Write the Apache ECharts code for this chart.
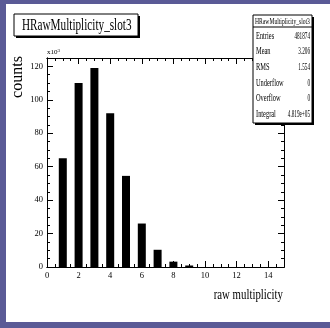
<!DOCTYPE html>
<html><head><meta charset="utf-8">
<script src="https://cdn.jsdelivr.net/npm/echarts@6/dist/echarts.min.js"></script>
<style>
html,body{margin:0;padding:0;background:#5a5a96;width:330px;height:328px;overflow:hidden;}
#panel{position:absolute;left:6px;top:4px;width:324px;height:318px;background:#fff;}
#c{position:absolute;left:0;top:0;width:330px;height:328px;}
</style>
</head><body><div id="panel"></div><div id="c"></div>
<script>
// ---- data ----
const binCenters = [1, 2, 3, 4, 5, 6, 7, 8, 9];
const countsK = [65, 110, 119, 92, 54.5, 26, 10.3, 3.2, 0.9];   // counts in units of 10^3
const xTickLabels = [0, 2, 4, 6, 8, 10, 12, 14];
const yTickLabels = [0, 20, 40, 60, 80, 100, 120];
const histTitle = 'HRawMultiplicity_slot3';
const statsNames = ['Entries', 'Mean', 'RMS', 'Underflow', 'Overflow', 'Integral'];
const statsValues = ['481874', '3.206', '1.554', '0', '0', '4.819e+05'];
const xTitle = 'raw multiplicity';
const yTitle = 'counts';

const SERIF = '"Liberation Serif", "DejaVu Serif", serif';
const chart = echarts.init(document.getElementById('c'), null, {renderer: 'canvas'});

function xAx(pos, interval, len, labels) {
  return {
    type: 'value', position: pos, min: 0, max: 15, interval: interval,
    axisLine: {show: true, onZero: false, lineStyle: {color: '#000', width: 1}},
    axisTick: {show: true, inside: true, length: len, lineStyle: {color: '#000', width: 1}},
    axisLabel: labels ? {
      show: true, margin: 4, color: '#000', fontFamily: SERIF, fontSize: 8.5,
      formatter: v => xTickLabels.includes(v) ? String(v) : ''
    } : {show: false},
    splitLine: {show: false}
  };
}
function yAx(pos, interval, len, labels) {
  return {
    type: 'value', position: pos, min: 0, max: 125, interval: interval,
    axisLine: {show: true, onZero: false, lineStyle: {color: '#000', width: 1}},
    axisTick: {show: true, inside: true, length: len, lineStyle: {color: '#000', width: 1}},
    axisLabel: labels ? {
      show: true, margin: 4, color: '#000', fontFamily: SERIF, fontSize: 8.5,
      formatter: v => yTickLabels.includes(v) ? String(v) : ''
    } : {show: false},
    splitLine: {show: false}
  };
}

const g = [];
// title box
g.push({type: 'rect', shape: {x: 16, y: 16, width: 124, height: 22}, style: {fill: '#000'}, z: 100});
g.push({type: 'rect', shape: {x: 14, y: 14, width: 124, height: 22}, style: {fill: '#fff', stroke: '#000', lineWidth: 1}, z: 101});
g.push({type: 'text', x: 22, y: 26, scaleX: 0.7, scaleY: 1, originX: 0, originY: 0,
  style: {text: histTitle, x: 0, y: 0, fill: '#000', font: '16px ' + SERIF,
    textAlign: 'left', align: 'left', textVerticalAlign: 'middle', verticalAlign: 'middle'}, z: 102});
// stats box
const sx = 253, sy = 15, sw = 59, sh = 108;
g.push({type: 'rect', shape: {x: sx + 2, y: sy + 2, width: sw, height: sh}, style: {fill: '#000'}, z: 100});
g.push({type: 'rect', shape: {x: sx, y: sy, width: sw, height: sh}, style: {fill: '#fff', stroke: '#000', lineWidth: 1}, z: 101});
g.push({type: 'line', shape: {x1: sx, y1: 27, x2: sx + sw, y2: 27}, style: {stroke: '#000', lineWidth: 1}, z: 102});
g.push({type: 'text', x: sx + sw / 2, y: 21.5, scaleX: 0.66, originX: 0, originY: 0,
  style: {text: histTitle, x: 0, y: 0, fill: '#000', font: '8.5px ' + SERIF,
    textAlign: 'center', align: 'center', textVerticalAlign: 'middle', verticalAlign: 'middle'}, z: 102});
statsNames.forEach((n, i) => {
  const yy = 36 + i * 15.7;
  g.push({type: 'text', x: sx + 3, y: yy, scaleX: 0.64, originX: 0, originY: 0,
    style: {text: n, x: 0, y: 0, fill: '#000', font: '10px ' + SERIF,
      textAlign: 'left', align: 'left', textVerticalAlign: 'middle', verticalAlign: 'middle'}, z: 102});
  g.push({type: 'text', x: sx + sw - 2, y: yy, scaleX: 0.52, originX: 0, originY: 0,
    style: {text: statsValues[i], x: 0, y: 0, fill: '#000', font: '10px ' + SERIF,
      textAlign: 'right', align: 'right', textVerticalAlign: 'middle', verticalAlign: 'middle'}, z: 102});
});
// exponent label
g.push({type: 'text', x: 47, y: 56,
  style: {text: 'x10{s|3}', x: 0, y: 0, fill: '#000', font: '7px ' + SERIF,
    rich: {s: {fontSize: 5, fontFamily: SERIF, verticalAlign: 'top', padding: [0, 0, 3, 0]}},
    textAlign: 'left', align: 'left', textVerticalAlign: 'bottom', verticalAlign: 'bottom'}, z: 50});
// axis titles
g.push({type: 'text', x: 283, y: 295, scaleX: 0.72, originX: 0, originY: 0,
  style: {text: xTitle, x: 0, y: 0, fill: '#000', font: '15px ' + SERIF,
    textAlign: 'right', align: 'right', textVerticalAlign: 'middle', verticalAlign: 'middle'}, z: 50});
g.push({type: 'text', x: 18, y: 77, rotation: Math.PI / 2, originX: 0, originY: 0,
  style: {text: yTitle, x: 0, y: 0, fill: '#000', font: '16px ' + SERIF,
    textAlign: 'center', align: 'center', textVerticalAlign: 'middle', verticalAlign: 'middle'}, z: 50});

chart.setOption({
  backgroundColor: 'transparent',
  animation: false,
  grid: {left: 47, right: 46, top: 58, bottom: 61, containLabel: false},
  xAxis: [xAx('bottom', 0.5, 3, true), xAx('bottom', 2, 6, false), xAx('top', 0.5, 3, false), xAx('top', 2, 6, false)],
  yAxis: [yAx('left', 5, 3, true), yAx('left', 20, 6, false), yAx('right', 5, 3, false), yAx('right', 20, 6, false)],
  series: [{
    type: 'bar', xAxisIndex: 0, yAxisIndex: 0, barWidth: 8,
    itemStyle: {color: '#000'},
    data: binCenters.map((x, i) => [x, countsK[i]])
  }],
  graphic: {elements: g}
});
</script>
</body></html>
